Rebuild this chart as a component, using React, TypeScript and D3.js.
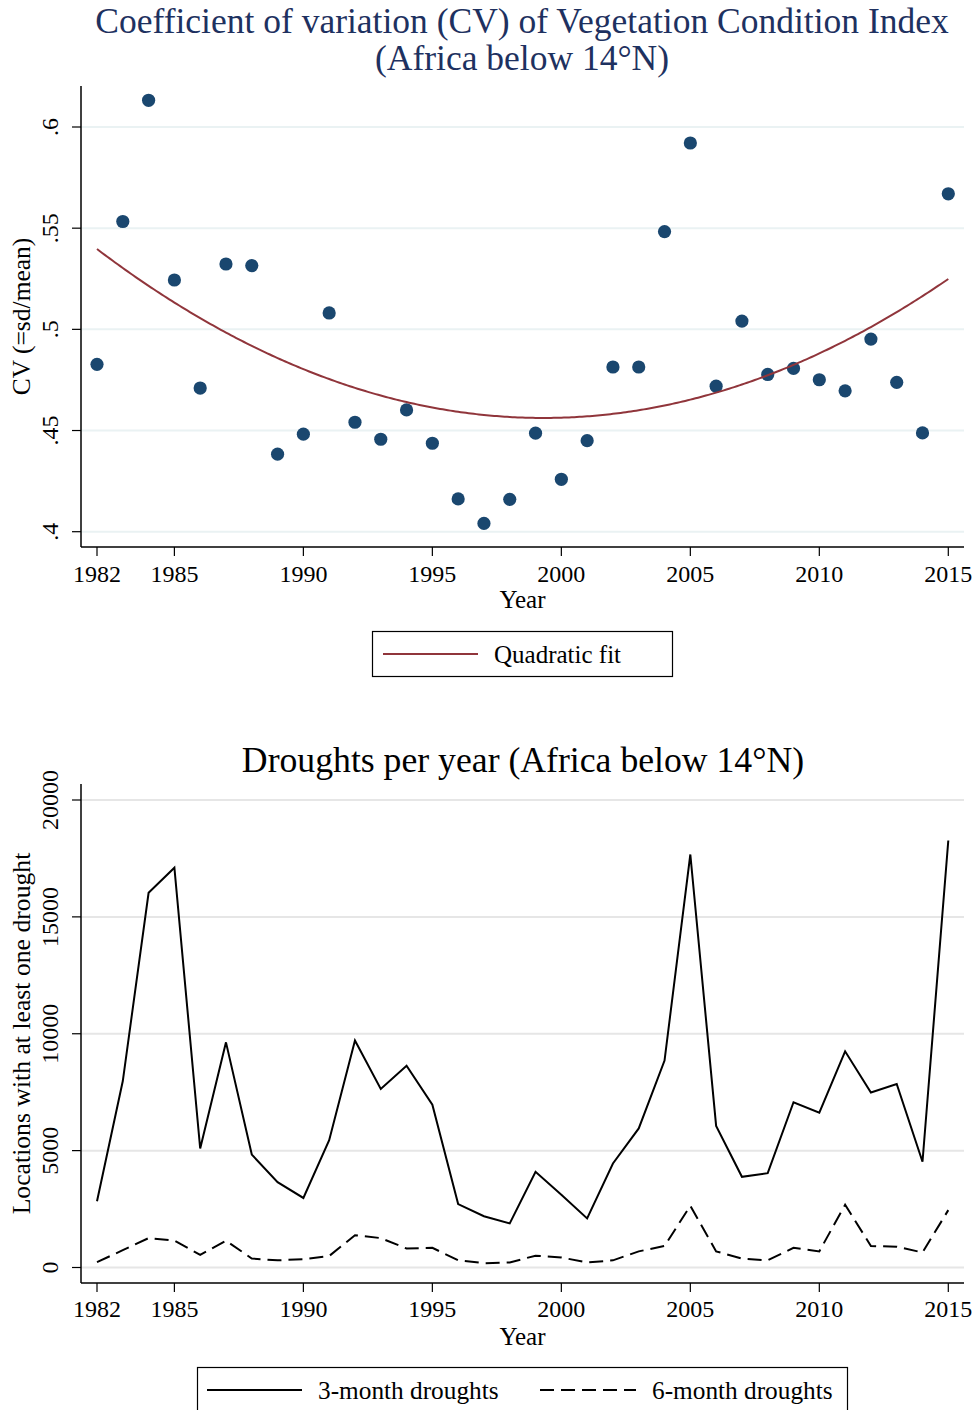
import React from "react";
import * as d3 from "d3";

const years: number[] = d3.range(1982, 2016);

const cvValues: number[] = [
  0.4827, 0.5533, 0.6132, 0.5244, 0.471, 0.5323, 0.5315, 0.4383, 0.4482, 0.5081,
  0.4541, 0.4457, 0.4602, 0.4437, 0.4162, 0.4041, 0.416, 0.4487, 0.4259, 0.445,
  0.4814, 0.4814, 0.5483, 0.5921, 0.4719, 0.5041, 0.4777, 0.4807, 0.4751, 0.4696,
  0.4952, 0.4738, 0.4488, 0.567,
];

const drought3: number[] = [
  2837, 7975, 16028, 17101, 5092, 9632, 4831, 3650, 2975, 5445,
  9709, 7638, 8635, 6963, 2715, 2193, 1887, 4095, 3113, 2101,
  4448, 5951, 8850, 17669, 6058, 3880, 4034, 7071, 6626, 9248,
  7485, 7853, 4525, 18267,
];

const drought6: number[] = [
  230, 740, 1258, 1150, 537, 1150, 383, 307, 353, 491,
  1380, 1258, 813, 843, 307, 184, 215, 506, 430, 215,
  307, 690, 920, 2638, 690, 383, 307, 843, 690, 2684,
  920, 890, 644, 2454,
];

const xTicks: number[] = [1982, 1985, 1990, 1995, 2000, 2005, 2010, 2015];
const cvTicks: number[] = [0.4, 0.45, 0.5, 0.55, 0.6];
const cvTickLabels: string[] = [".4", ".45", ".5", ".55", ".6"];
const droughtTicks: number[] = [0, 5000, 10000, 15000, 20000];

function quadFit(xs: number[], ys: number[]) {
  const xm = d3.mean(xs) as number;
  const u = xs.map((x) => x - xm);
  let s0 = 0, s1 = 0, s2 = 0, s3 = 0, s4 = 0, t0 = 0, t1 = 0, t2 = 0;
  u.forEach((x, i) => {
    const y = ys[i];
    s0 += 1; s1 += x; s2 += x * x; s3 += x * x * x; s4 += x * x * x * x;
    t0 += y; t1 += x * y; t2 += x * x * y;
  });
  const A = [
    [s0, s1, s2, t0],
    [s1, s2, s3, t1],
    [s2, s3, s4, t2],
  ];
  for (let i = 0; i < 3; i++) {
    for (let k = i + 1; k < 3; k++) {
      const f = A[k][i] / A[i][i];
      for (let j = i; j < 4; j++) A[k][j] -= f * A[i][j];
    }
  }
  const c = [0, 0, 0];
  for (let i = 2; i >= 0; i--) {
    let s = A[i][3];
    for (let j = i + 1; j < 3; j++) s -= A[i][j] * c[j];
    c[i] = s / A[i][i];
  }
  return (x: number) => c[0] + c[1] * (x - xm) + c[2] * (x - xm) * (x - xm);
}

const FONT = "'Liberation Serif', 'Times New Roman', serif";

export default function App() {
  const xScale = d3.scaleLinear().domain([1982, 2015]).range([97, 948.3]);
  const axL = 81;
  const axR = 964;

  // Top chart
  const yTop = d3.scaleLinear().domain([0.4, 0.6]).range([531.7, 127]);
  const topAxisY = 547;
  const topAxisTop = 86;
  const fit = quadFit(years, cvValues);
  const fitPts = d3.range(1982, 2015.001, 0.1).map((x) => [x, fit(x)] as [number, number]);
  const fitLine = d3
    .line<[number, number]>()
    .x((d) => xScale(d[0]))
    .y((d) => yTop(d[1]))(fitPts) as string;

  // Bottom chart
  const yBot = d3.scaleLinear().domain([0, 20000]).range([1267.5, 800]);
  const botAxisY = 1283;
  const botAxisTop = 784;
  const line = d3
    .line<number>()
    .x((_, i) => xScale(years[i]))
    .y((d) => yBot(d));

  const navy = "#1a476f";
  const maroon = "#90353b";
  const titleColor = "#1e3160";

  return (
    <svg
      width={976}
      height={1410}
      style={{ position: "absolute", left: 0, top: 0, background: "#fff" }}
      fontFamily={FONT}
    >
      <rect x={0} y={0} width={976} height={1410} fill="#fff" />

      {/* ===== TOP CHART ===== */}
      <text x={522} y={33} textAnchor="middle" fontSize={35.5} fill={titleColor}>
        Coefficient of variation (CV) of Vegetation Condition Index
      </text>
      <text x={522} y={70} textAnchor="middle" fontSize={35.5} fill={titleColor}>
        (Africa below 14°N)
      </text>

      {cvTicks.map((t) => (
        <line key={"tg" + t} x1={axL} x2={axR} y1={yTop(t)} y2={yTop(t)} stroke="#eaf2f3" strokeWidth={2} />
      ))}

      <line x1={axL} x2={axL} y1={topAxisTop} y2={topAxisY} stroke="#000" strokeWidth={1.5} />
      <line x1={axL} x2={axR} y1={topAxisY} y2={topAxisY} stroke="#000" strokeWidth={1.5} />

      {cvTicks.map((t, i) => (
        <g key={"ty" + t}>
          <line x1={axL - 9} x2={axL} y1={yTop(t)} y2={yTop(t)} stroke="#000" strokeWidth={1.2} />
          <text
            transform={`translate(58,${yTop(t)}) rotate(-90)`}
            textAnchor="middle"
            fontSize={24}
            fill="#000"
          >
            {cvTickLabels[i]}
          </text>
        </g>
      ))}
      {xTicks.map((t) => (
        <g key={"tx" + t}>
          <line x1={xScale(t)} x2={xScale(t)} y1={topAxisY} y2={topAxisY + 9} stroke="#000" strokeWidth={1.2} />
          <text x={xScale(t)} y={582} textAnchor="middle" fontSize={24} fill="#000">
            {t}
          </text>
        </g>
      ))}
      <text x={522.5} y={608} textAnchor="middle" fontSize={25} fill="#000">
        Year
      </text>
      <text transform={`translate(30,${(topAxisTop + topAxisY) / 2}) rotate(-90)`} textAnchor="middle" fontSize={25.5} fill="#000">
        CV (=sd/mean)
      </text>

      {cvValues.map((v, i) => (
        <circle key={"pt" + i} cx={xScale(years[i])} cy={yTop(v)} r={6.6} fill={navy} />
      ))}
      <path d={fitLine} fill="none" stroke={maroon} strokeWidth={2} />

      {/* top legend */}
      <rect x={372.5} y={631.5} width={300} height={45} fill="#fff" stroke="#000" strokeWidth={1.2} />
      <line x1={383} x2={478} y1={654} y2={654} stroke={maroon} strokeWidth={2} />
      <text x={494} y={663} fontSize={25} fill="#000">
        Quadratic fit
      </text>

      {/* ===== BOTTOM CHART ===== */}
      <text x={523} y={772} textAnchor="middle" fontSize={35.7} fill="#000">
        Droughts per year (Africa below 14°N)
      </text>

      {droughtTicks.map((t) => (
        <line key={"bg" + t} x1={axL} x2={axR} y1={yBot(t)} y2={yBot(t)} stroke="#e6e6e6" strokeWidth={2} />
      ))}

      <line x1={axL} x2={axL} y1={botAxisTop} y2={botAxisY} stroke="#000" strokeWidth={1.5} />
      <line x1={axL} x2={axR} y1={botAxisY} y2={botAxisY} stroke="#000" strokeWidth={1.5} />

      {droughtTicks.map((t) => (
        <g key={"by" + t}>
          <line x1={axL - 9} x2={axL} y1={yBot(t)} y2={yBot(t)} stroke="#000" strokeWidth={1.2} />
          <text
            transform={`translate(58,${yBot(t)}) rotate(-90)`}
            textAnchor="middle"
            fontSize={24}
            fill="#000"
          >
            {t}
          </text>
        </g>
      ))}
      {xTicks.map((t) => (
        <g key={"bx" + t}>
          <line x1={xScale(t)} x2={xScale(t)} y1={botAxisY} y2={botAxisY + 9} stroke="#000" strokeWidth={1.2} />
          <text x={xScale(t)} y={1317} textAnchor="middle" fontSize={24} fill="#000">
            {t}
          </text>
        </g>
      ))}
      <text x={522.5} y={1345} textAnchor="middle" fontSize={25} fill="#000">
        Year
      </text>
      <text transform={`translate(30,${(botAxisTop + botAxisY) / 2}) rotate(-90)`} textAnchor="middle" fontSize={25.7} fill="#000">
        Locations with at least one drought
      </text>

      <path d={line(drought3) as string} fill="none" stroke="#000" strokeWidth={2} strokeLinejoin="miter" />
      <path d={line(drought6) as string} fill="none" stroke="#000" strokeWidth={2} strokeDasharray="14 7" />

      {/* bottom legend */}
      <rect x={197.5} y={1367.5} width={650} height={46} fill="#fff" stroke="#000" strokeWidth={1.2} />
      <line x1={207} x2={302} y1={1390} y2={1390} stroke="#000" strokeWidth={2} />
      <text x={318} y={1399} fontSize={25.3} fill="#000">
        3-month droughts
      </text>
      <line x1={540} x2={636} y1={1390} y2={1390} stroke="#000" strokeWidth={2} strokeDasharray="14 7" />
      <text x={652} y={1399} fontSize={25.3} fill="#000">
        6-month droughts
      </text>
    </svg>
  );
}
